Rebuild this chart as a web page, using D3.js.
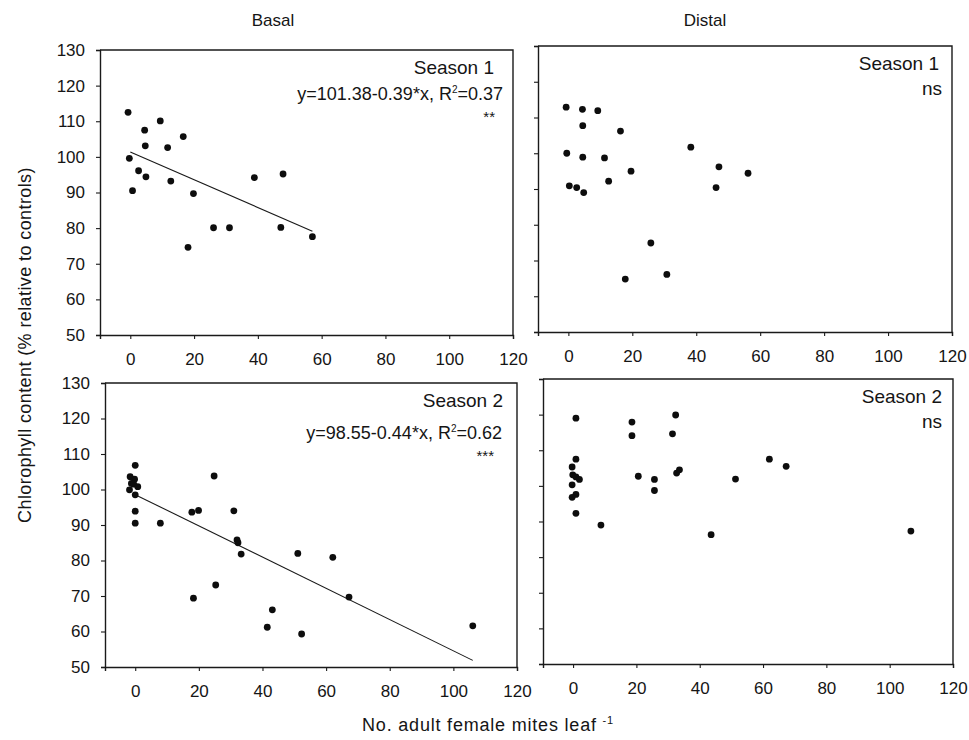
<!DOCTYPE html>
<html>
<head>
<meta charset="utf-8">
<script src="https://cdn.jsdelivr.net/npm/d3@7"></script>
<style>
  body { margin: 0; background: #fff; }
  text { font-family: Arial, "Liberation Sans", Helvetica, sans-serif; fill: #151515; }
</style>
</head>
<body>
<svg id="chart" width="969" height="740"></svg>
<script>
// Axis ticks and headings
const xTicks = [0, 20, 40, 60, 80, 100, 120];
const yTicks = [50, 60, 70, 80, 90, 100, 110, 120, 130];
const columnTitles = ["Basal", "Distal"];
const seasonLabels = ["Season 1", "Season 2"];

// Basal leaves, season 1
const basalS1X = [-0.7, -0.3, 0.7, 2.6, 4.5, 4.7, 4.9, 9.4, 11.7, 12.7, 16.6, 18.1, 19.8, 26.1, 31.1, 38.9, 47.2, 47.9, 57.1];
const basalS1Y = [112.5, 99.6, 90.5, 96.1, 107.5, 103.1, 94.4, 110.1, 102.6, 93.2, 105.7, 74.6, 89.7, 80.1, 80.1, 94.2, 80.2, 95.2, 77.6];

// Distal leaves, season 1
const distalS1X = [-0.7, -0.5, 0.3, 2.6, 4.4, 4.5, 4.5, 4.8, 9.2, 11.3, 12.6, 16.3, 17.8, 19.6, 25.8, 30.8, 38.3, 46.2, 47.1, 56.2];
const distalS1Y = [112.9, 100.0, 90.9, 90.4, 112.3, 107.7, 98.9, 89.0, 111.9, 98.7, 92.2, 106.2, 64.8, 95.0, 74.9, 66.1, 101.7, 90.4, 96.2, 94.4];

// Basal leaves, season 2
const basalS2X = [-1.6, -1.8, -1.2, -0.2, 0.0, -0.5, 0.8, 0.0, 0.0, 0.0, 7.9, 17.8, 19.9, 18.3, 24.8, 25.3, 31.0, 32.0, 32.3, 33.3, 41.5, 43.1, 51.1, 52.3, 62.1, 67.2, 106.1];
const basalS2Y = [103.6, 99.9, 101.7, 102.9, 106.8, 101.5, 100.8, 98.5, 93.9, 90.5, 90.5, 93.6, 94.1, 69.4, 103.8, 73.1, 94.0, 85.8, 85.0, 81.8, 61.2, 66.1, 82.0, 59.3, 80.9, 69.7, 61.6];

// Distal leaves, season 2
const distalS2X = [0.9, 0.9, -0.3, -0.1, 0.9, 2.0, -0.3, 0.9, -0.3, 0.9, 8.8, 18.6, 18.6, 20.6, 25.7, 25.7, 31.4, 32.4, 32.7, 33.6, 43.6, 51.3, 62.0, 67.3, 106.7];
const distalS2Y = [119.0, 107.5, 105.3, 103.1, 102.5, 101.8, 100.3, 97.6, 96.8, 92.3, 89.0, 117.9, 114.1, 102.7, 101.8, 98.7, 114.6, 119.9, 103.6, 104.5, 86.3, 101.9, 107.5, 105.5, 87.3];

// Linear fits printed in the basal panels
const basalS1Fit = { intercept: 101.38, slope: -0.39, r2: "0.37", sig: "**" };
const basalS2Fit = { intercept: 98.55, slope: -0.44, r2: "0.62", sig: "***" };

// Panel frames (pixels) and what goes in each
const panels = [
  { left: 100, right: 513, top: 50,  bottom: 335, xs: basalS1X,  ys: basalS1Y,  fit: basalS1Fit, season: 0, yLabels: true,  labelRight: 494, eqRight: 503 },
  { left: 538, right: 952, top: 46,  bottom: 332, xs: distalS1X, ys: distalS1Y, fit: null,       season: 0, yLabels: false, labelRight: 939, eqRight: 942 },
  { left: 105, right: 517, top: 383, bottom: 667, xs: basalS2X,  ys: basalS2Y,  fit: basalS2Fit, season: 1, yLabels: true,  labelRight: 503, eqRight: 502 },
  { left: 543, right: 953, top: 379, bottom: 664, xs: distalS2X, ys: distalS2Y, fit: null,       season: 1, yLabels: false, labelRight: 942, eqRight: 942 }
];

const svg = d3.select("#chart");
const ink = "#1a1a1a";

panels.forEach(p => {
  const x = d3.scaleLinear().domain([-9.5, 120]).range([p.left, p.right]);
  const y = d3.scaleLinear().domain([50, 130]).range([p.bottom, p.top]);
  const g = svg.append("g");

  // y axis on the left edge
  const yAxis = d3.axisLeft(y).tickValues(yTicks).tickSize(4).tickPadding(11)
    .tickFormat(p.yLabels ? d3.format("d") : () => "");
  const ya = g.append("g").attr("transform", `translate(${p.left},0)`).call(yAxis);
  ya.select(".domain").attr("stroke", ink).attr("stroke-width", 1.4);
  ya.selectAll(".tick line").attr("stroke", ink).attr("stroke-width", 1.1);
  ya.selectAll(".tick text").attr("font-size", 17).attr("fill", ink)
    .style("font-family", "Arial, 'Liberation Sans', sans-serif");

  // x axis on the bottom edge
  const xAxis = d3.axisBottom(x).tickValues(xTicks).tickSize(4).tickPadding(14)
    .tickFormat(d3.format("d"));
  const xa = g.append("g").attr("transform", `translate(0,${p.bottom})`).call(xAxis);
  xa.select(".domain").attr("stroke", ink).attr("stroke-width", 1.4);
  xa.selectAll(".tick line").attr("stroke", ink).attr("stroke-width", 1.1);
  xa.selectAll(".tick text").attr("font-size", 17).attr("fill", ink)
    .style("font-family", "Arial, 'Liberation Sans', sans-serif");

  // top and right edges of the frame
  g.append("path")
    .attr("d", `M${p.left},${p.top}H${p.right}V${p.bottom}`)
    .attr("fill", "none").attr("stroke", ink).attr("stroke-width", 1.4);

  // fitted line
  if (p.fit) {
    const x0 = 0, x1 = d3.max(p.xs);
    g.append("line")
      .attr("x1", x(x0)).attr("y1", y(p.fit.intercept + p.fit.slope * x0))
      .attr("x2", x(x1)).attr("y2", y(p.fit.intercept + p.fit.slope * x1))
      .attr("stroke", ink).attr("stroke-width", 1.1);
  }

  // observations
  g.selectAll("circle").data(d3.range(p.xs.length)).join("circle")
    .attr("cx", i => x(p.xs[i])).attr("cy", i => y(p.ys[i]))
    .attr("r", 3.4).attr("fill", "#0d0d0d");

  // season label
  g.append("text").attr("x", p.labelRight).attr("y", p.top + 24)
    .attr("text-anchor", "end").attr("font-size", 19).text(seasonLabels[p.season]);

  if (p.fit) {
    const eqY = p.season === 0 ? p.top + 50 : p.top + 56;
    const t = g.append("text").attr("x", p.eqRight).attr("y", eqY)
      .attr("text-anchor", "end").attr("font-size", 18);
    const sign = p.fit.slope < 0 ? "-" : "+";
    t.append("tspan").text(`y=${p.fit.intercept.toFixed(2)}${sign}${Math.abs(p.fit.slope).toFixed(2)}*x, R`);
    t.append("tspan").attr("dy", -7).attr("font-size", 10).text("2");
    t.append("tspan").attr("dy", 7).text(`=${p.fit.r2}`);
    g.append("text").attr("x", p.eqRight - 8).attr("y", eqY + 22)
      .attr("text-anchor", "end").attr("font-size", 15).text(p.fit.sig);
  } else {
    g.append("text").attr("x", p.eqRight).attr("y", p.top + 49)
      .attr("text-anchor", "end").attr("font-size", 19).text("ns");
  }
});

// column headings
svg.append("text").attr("x", 273).attr("y", 26).attr("text-anchor", "middle")
  .attr("font-size", 17).text(columnTitles[0]);
svg.append("text").attr("x", 705).attr("y", 26).attr("text-anchor", "middle")
  .attr("font-size", 17).text(columnTitles[1]);

// axis titles
svg.append("text").attr("transform", "translate(31,345) rotate(-90)")
  .attr("text-anchor", "middle").attr("font-size", 18).attr("letter-spacing", 0.4)
  .text("Chlorophyll content (% relative to controls)");

const xt = svg.append("text").attr("x", 488).attr("y", 731).attr("text-anchor", "middle")
  .attr("font-size", 18).attr("letter-spacing", 0.8);
xt.append("tspan").text("No. adult female mites leaf ");
xt.append("tspan").attr("dy", -7).attr("font-size", 11).text("-1");
</script>
</body>
</html>
